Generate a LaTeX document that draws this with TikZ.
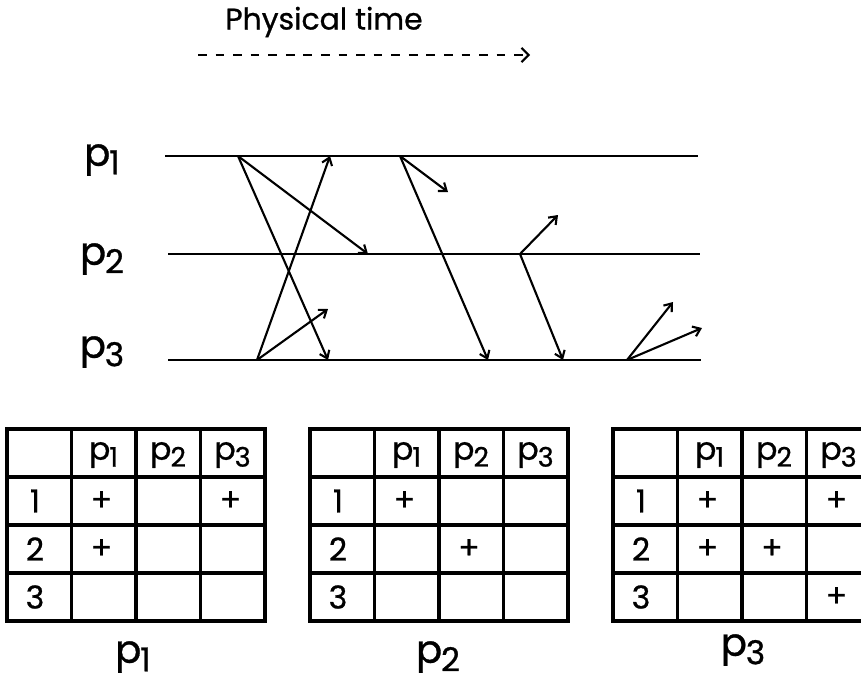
\documentclass[tikz,border=0pt]{standalone}
\usepackage{fontspec}
\setmainfont{Poppins}[FakeBold=0.8]
\usepackage{graphicx}
\usetikzlibrary{arrows.meta,positioning}
\tikzset{
  procline/.style={line width=1.4pt},
  msg/.style={-{Straight Barb[length=4pt,width=6pt,line width=1.2pt]}, line width=1.2pt},
  timeline/.style={-{Straight Barb[length=4pt,width=8pt,line width=1.2pt]}, line width=1.4pt, dash pattern=on 5pt off 5pt},
  tabline/.style={line width=2pt},
  plab/.style={font=\fontsize{22}{26}\selectfont, inner sep=0pt},
  cell/.style={font=\fontsize{18}{22}\selectfont, inner sep=0pt},
}
\newcommand{\pp}[1]{p\kern-0.03em\raisebox{-0.22em}{\scalebox{0.85}{#1}}}
% clock table: name, left x, entries col/row
\newcommand{\clocktable}[3]{%
\begin{scope}[shift={(#2,429)}]
  \draw[tabline] (0,0) rectangle (258,192);
  \foreach \k in {1,2,3}{
    \draw[tabline] (\k*64.5,0) -- (\k*64.5,192);
    \draw[tabline] (0,\k*48) -- (258,\k*48);
    \node[cell] (#1-h\k) at (\k*64.5+32,26) {\pp{\k}};
    \node[cell] (#1-r\k) at (28,\k*48+24) {\k};
  }
  \foreach \c/\r in {#3}
    \node[cell] (#1-\c\r) at (\c*64.5+30,\r*48+24) {+};
\end{scope}}

\begin{document}
\begin{tikzpicture}[x=0.02cm, y=-0.02cm]
\useasboundingbox (0,0) rectangle (861,687);
\node[font=\fontsize{17}{21}\selectfont, inner sep=0pt] (ptime) at (324,22) {Physical time};
\coordinate (ts) at (198,55);
\coordinate (te) at (530,55);
\draw[timeline] (ts) -- (te);

\node[plab] (lab1) at (102,160) {\pp{1}};
\node[plab] (lab2) at (102,259) {\pp{2}};
\node[plab] (lab3) at (102,352) {\pp{3}};
\coordinate (p1s) at (165,156); \coordinate (p1e) at (698,156);
\coordinate (p2s) at (168,254); \coordinate (p2e) at (700,254);
\coordinate (p3s) at (168,360); \coordinate (p3e) at (701,360);
\draw[procline] (p1s) -- (p1e);
\draw[procline] (p2s) -- (p2e);
\draw[procline] (p3s) -- (p3e);

\coordinate (a) at (238,156);
\coordinate (b) at (330,156);
\coordinate (c) at (400,156);
\coordinate (d) at (368,254);
\coordinate (e) at (520,254);
\coordinate (f) at (257,360);
\coordinate (g) at (328,360);
\coordinate (h) at (488,360);
\coordinate (i) at (563,360);
\coordinate (j) at (627,360);
\coordinate (fx) at (328,309);
\coordinate (cx) at (448,192);
\coordinate (ex) at (558,215);
\coordinate (jx1) at (673,302);
\coordinate (jx2) at (702,328);

\draw[msg] (a) -- (g);
\draw[msg] (a) -- (d);
\draw[msg] (f) -- (b);
\draw[msg] (f) -- (fx);
\draw[msg] (c) -- (h);
\draw[msg] (c) -- (cx);
\draw[msg] (e) -- (ex);
\draw[msg] (e) -- (i);
\draw[msg] (j) -- (jx1);
\draw[msg] (j) -- (jx2);

\clocktable{t1}{7}{1/1,3/1,1/2}
\clocktable{t2}{310}{1/1,2/2}
\clocktable{t3}{613}{1/1,3/1,1/2,2/2,3/3}

\node[plab] (cap1) at (133,657) {\pp{1}};
\node[plab] (cap2) at (438,657) {\pp{2}};
\node[plab] (cap3) at (743,650) {\pp{3}};
\end{tikzpicture}
\end{document}
